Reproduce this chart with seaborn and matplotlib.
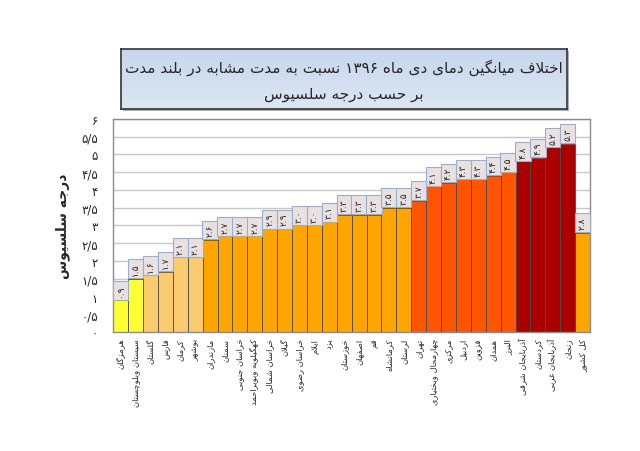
import re
import numpy as np
import pandas as pd
import matplotlib
matplotlib.use("Agg")
import matplotlib.pyplot as plt
import seaborn as sns

# data
provinces = [
    "هرمزگان", "سیستان وبلوچستان", "گلستان", "فارس", "کرمان", "بوشهر",
    "مازندران", "سمنان", "خراسان جنوبی", "کهگیلویه وبویراحمد", "خراسان شمالی",
    "گیلان", "خراسان رضوی", "ایلام", "یزد", "خوزستان", "اصفهان", "قم",
    "کرمانشاه", "لرستان", "تهران", "چهارمحال وبختیاری", "مرکزی", "اردبیل",
    "قزوین", "همدان", "البرز", "آذربایجان شرقی", "کردستان", "آذربایجان غربی",
    "زنجان", "کل کشور",
]
anomaly = [0.9, 1.5, 1.6, 1.7, 2.1, 2.1, 2.6, 2.7, 2.7, 2.7, 2.9, 2.9, 3.0, 3.0,
           3.1, 3.3, 3.3, 3.3, 3.5, 3.5, 3.7, 4.1, 4.2, 4.3, 4.3, 4.4, 4.5, 4.8,
           4.9, 5.2, 5.3, 2.8]
class_edges = [0, 1.5, 2.5, 3.5, 4.5, 6]
yticks = np.arange(0, 6.01, 0.5)

title_lines = ["اختلاف میانگین دمای دی ماه ۱۳۹۶ نسبت به مدت مشابه در بلند مدت",
               "بر حسب درجه سلسیوس"]
ylabel_text = "درجه سلسیوس"

# --- tiny persian shaper (matplotlib has no complex text layout) ---
FORMS = {
    'ا': (0xFE8D, 0xFE8E, None, None), 'آ': (0xFE81, 0xFE82, None, None),
    'ب': (0xFE8F, 0xFE90, 0xFE91, 0xFE92), 'پ': (0xFB56, 0xFB57, 0xFB58, 0xFB59),
    'ت': (0xFE95, 0xFE96, 0xFE97, 0xFE98), 'ث': (0xFE99, 0xFE9A, 0xFE9B, 0xFE9C),
    'ج': (0xFE9D, 0xFE9E, 0xFE9F, 0xFEA0), 'چ': (0xFB7A, 0xFB7B, 0xFB7C, 0xFB7D),
    'ح': (0xFEA1, 0xFEA2, 0xFEA3, 0xFEA4), 'خ': (0xFEA5, 0xFEA6, 0xFEA7, 0xFEA8),
    'د': (0xFEA9, 0xFEAA, None, None), 'ذ': (0xFEAB, 0xFEAC, None, None),
    'ر': (0xFEAD, 0xFEAE, None, None), 'ز': (0xFEAF, 0xFEB0, None, None),
    'ژ': (0xFB8A, 0xFB8B, None, None),
    'س': (0xFEB1, 0xFEB2, 0xFEB3, 0xFEB4), 'ش': (0xFEB5, 0xFEB6, 0xFEB7, 0xFEB8),
    'ص': (0xFEB9, 0xFEBA, 0xFEBB, 0xFEBC), 'ض': (0xFEBD, 0xFEBE, 0xFEBF, 0xFEC0),
    'ط': (0xFEC1, 0xFEC2, 0xFEC3, 0xFEC4), 'ظ': (0xFEC5, 0xFEC6, 0xFEC7, 0xFEC8),
    'ع': (0xFEC9, 0xFECA, 0xFECB, 0xFECC), 'غ': (0xFECD, 0xFECE, 0xFECF, 0xFED0),
    'ف': (0xFED1, 0xFED2, 0xFED3, 0xFED4), 'ق': (0xFED5, 0xFED6, 0xFED7, 0xFED8),
    'ک': (0xFB8E, 0xFB8F, 0xFB90, 0xFB91), 'گ': (0xFB92, 0xFB93, 0xFB94, 0xFB95),
    'ل': (0xFEDD, 0xFEDE, 0xFEDF, 0xFEE0), 'م': (0xFEE1, 0xFEE2, 0xFEE3, 0xFEE4),
    'ن': (0xFEE5, 0xFEE6, 0xFEE7, 0xFEE8), 'ه': (0xFEE9, 0xFEEA, 0xFEEB, 0xFEEC),
    'و': (0xFEED, 0xFEEE, None, None),
    'ی': (0xFBFC, 0xFBFD, 0xFBFE, 0xFBFF),
}
LAM_ALEF = {'ا': (0xFEFB, 0xFEFC), 'آ': (0xFEF5, 0xFEF6)}


def shape(text):
    chars = list(text)
    out = []
    i = 0
    while i < len(chars):
        c = chars[i]
        if c not in FORMS:
            out.append(c)
            i += 1
            continue
        prev = chars[i - 1] if i > 0 else None
        joins_prev = prev in FORMS and FORMS[prev][2] is not None
        if c == 'ل' and i + 1 < len(chars) and chars[i + 1] in LAM_ALEF:
            iso, fin = LAM_ALEF[chars[i + 1]]
            out.append(chr(fin if joins_prev else iso))
            i += 2
            continue
        nxt = chars[i + 1] if i + 1 < len(chars) else None
        joins_next = FORMS[c][2] is not None and nxt in FORMS
        iso, fin, ini, med = FORMS[c]
        if joins_prev and joins_next:
            f = med
        elif joins_prev:
            f = fin
        elif joins_next:
            f = ini
        else:
            f = iso
        out.append(chr(f))
        i += 1
    vis = ''.join(out)[::-1]
    # numbers stay left to right
    return re.sub(r'[۰-۹0-9./]+', lambda m: m.group(0)[::-1], vis)


def fa_num(s):
    return s.translate(str.maketrans('0123456789', '۰۱۲۳۴۵۶۷۸۹'))


df = pd.DataFrame({"province": [shape(p) for p in provinces], "anomaly": anomaly})
df["cls"] = pd.cut(df["anomaly"], class_edges, labels=False)
palette = {0: "#FFFF33", 1: "#FBCB70", 2: "#FFA500", 3: "#FF5500", 4: "#AA0000"}

sns.set_style("white")
plt.rcParams['font.family'] = ['DejaVu Sans']

fig = plt.figure(figsize=(6.4, 4.52), dpi=100)
ax = fig.add_axes([0.177, 0.263, 0.745, 0.472])

sns.barplot(data=df, x="province", y="anomaly", hue="cls", palette=palette,
            dodge=False, width=1.0, saturation=1, edgecolor="#4a4a4a", linewidth=0.6,
            legend=False, ax=ax, zorder=2)

ax.set_ylim(0, 6)
ax.set_xlim(-0.5, len(df) - 0.5)
ax.set_yticks(yticks)
ax.set_yticklabels([fa_num(f"{t:g}").replace('.', '/') for t in yticks], fontsize=8.5)
ax.yaxis.grid(True, color="#c8c8c8", linewidth=1.0, zorder=0)
ax.set_axisbelow(True)
ax.tick_params(axis='y', length=0, pad=11)
ax.tick_params(axis='x', length=0, pad=4)
ax.set_xticks(range(len(df)))
ax.set_xticklabels(df["province"], rotation=90, fontsize=6, va='top', ha='center')
ax.set_xlabel("")
ax.set_ylabel("")
for s in ax.spines.values():
    s.set_color("#8c8c8c")
    s.set_linewidth(1.0)

# value boxes on top of bars
for i, v in enumerate(df["anomaly"]):
    ax.text(i, v + 0.1, fa_num(f"{v:.1f}"), rotation=90, ha='center', va='bottom',
            fontsize=6.5, color="#222222", zorder=4,
            bbox=dict(boxstyle="square,pad=0.35", fc="#E9E1E1", ec="#97AFCF", lw=0.8))

fig.text(0.098, 0.5, shape(ylabel_text), rotation=90, ha='center', va='center',
         fontsize=10, fontweight='bold')

# title box with light blue gradient
shadow = fig.add_axes([0.192, 0.752, 0.697, 0.133])
shadow.set_facecolor("#b0b0b0")
shadow.set_xticks([])
shadow.set_yticks([])
for s in shadow.spines.values():
    s.set_visible(False)
tax = fig.add_axes([0.189, 0.757, 0.697, 0.133])
grad = np.linspace(0, 1, 50).reshape(-1, 1)
cmap = matplotlib.colors.LinearSegmentedColormap.from_list("tb", ["#C6D6EC", "#DDE7F3"])
tax.imshow(grad, aspect='auto', cmap=cmap, extent=[0, 1, 0, 1], origin='upper')
tax.set_xlim(0, 1)
tax.set_ylim(0, 1)
tax.set_xticks([])
tax.set_yticks([])
for s in tax.spines.values():
    s.set_color("#333333")
    s.set_linewidth(1.2)
tax.text(0.5, 0.7, shape(title_lines[0]), ha='center', va='center', fontsize=11)
tax.text(0.5, 0.26, shape(title_lines[1]), ha='center', va='center', fontsize=11)

fig.savefig("out.png", dpi=100)
